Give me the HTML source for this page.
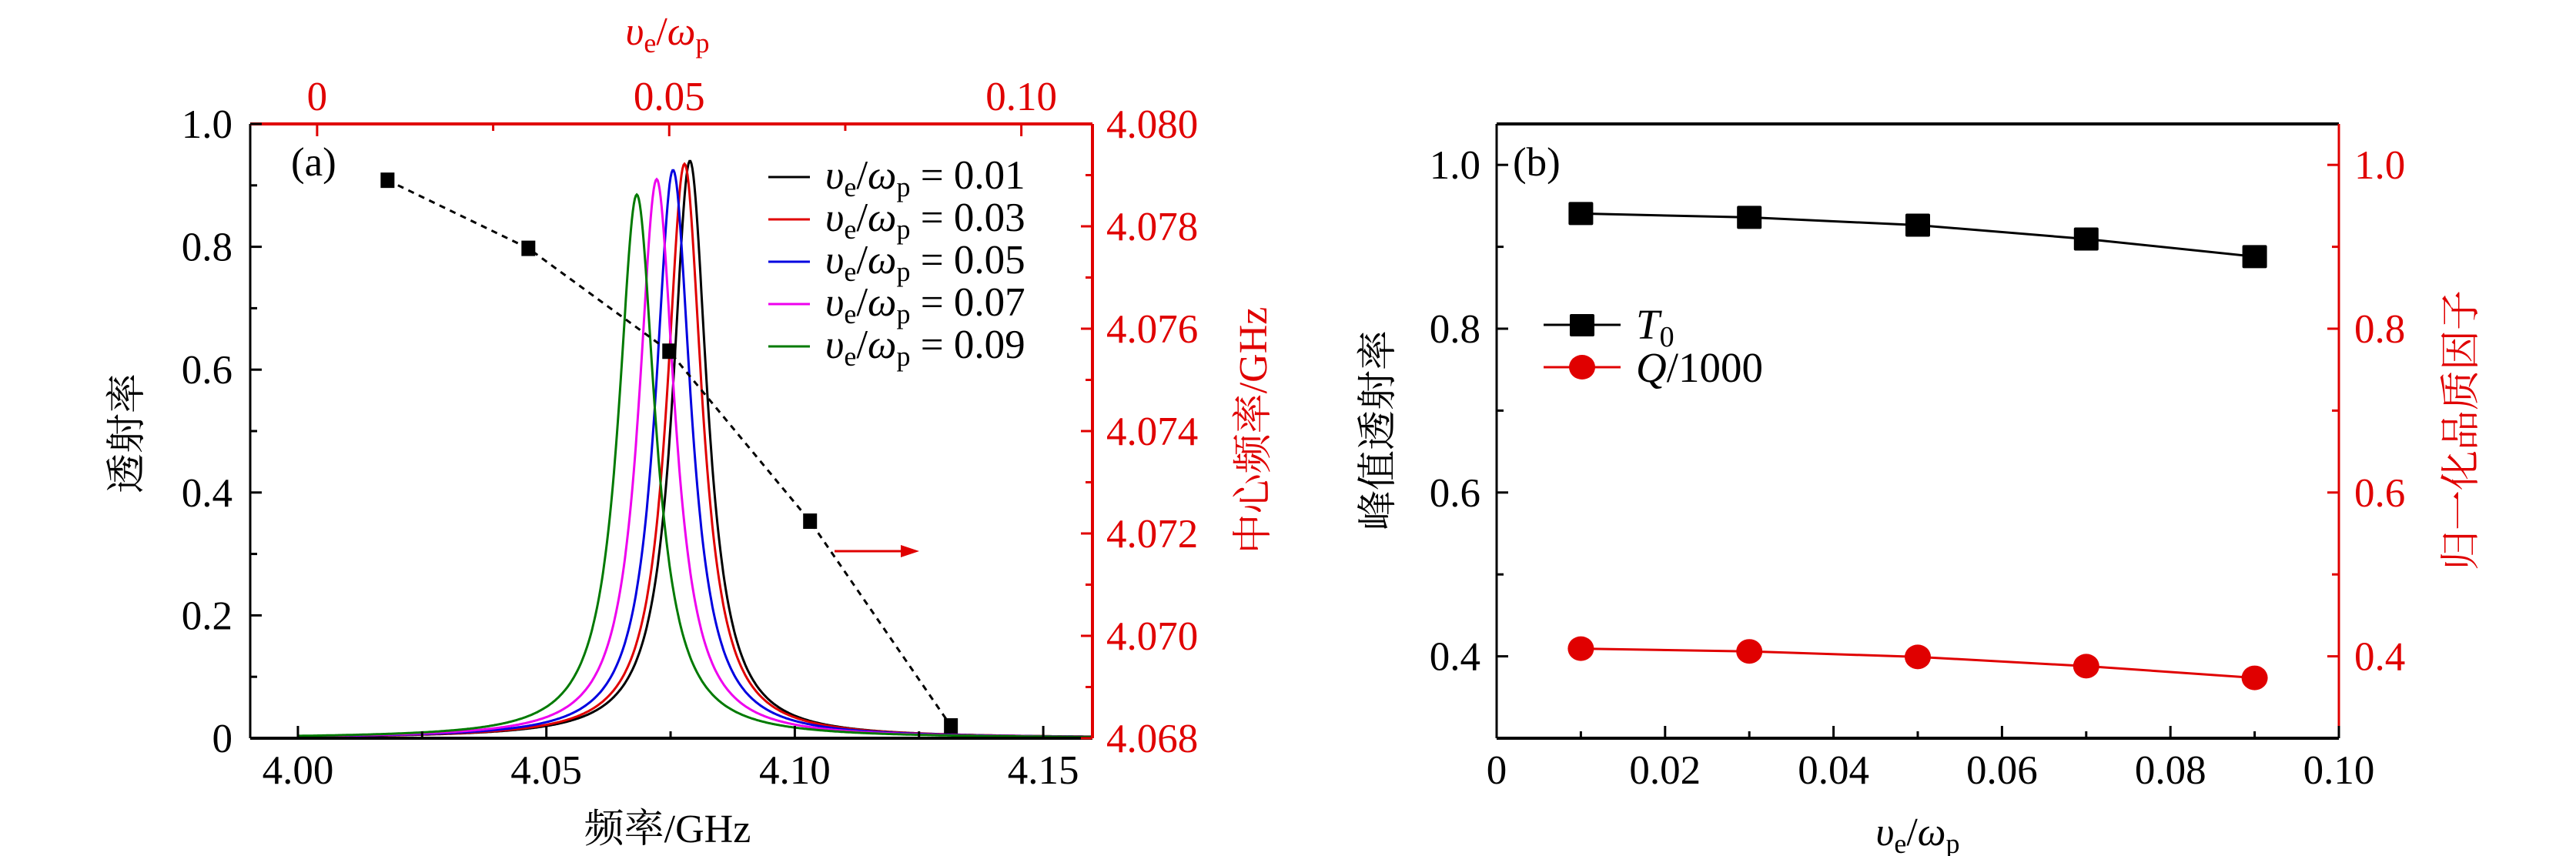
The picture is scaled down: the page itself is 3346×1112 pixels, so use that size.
<!DOCTYPE html>
<html><head><meta charset="utf-8"><style>
html,body{margin:0;padding:0;background:#fff}
svg{display:block}
text{font-family:"Liberation Serif","Noto Serif CJK SC",serif}
</style></head><body>
<svg id="fig" width="3346" height="1112" viewBox="0 0 3346 1112" xmlns="http://www.w3.org/2000/svg">
<g id="pa"></g>
<g id="pb"></g>
</svg>
<script>
// ---- Panel (a) data ----
const aVe = [0.01, 0.03, 0.05, 0.07, 0.09];
const aPeakFreq = [4.0789, 4.0778, 4.0755, 4.0722, 4.0682];
const aPeakT = [0.94, 0.935, 0.925, 0.91, 0.885];
const aFwhm = [0.0085, 0.0086, 0.0087, 0.0088, 0.0090];
const aColors = ["#000000", "#e00000", "#0000e0", "#ee00ee", "#007a00"];
const aCenterFreq = [4.0789, 4.07757, 4.07556, 4.07224, 4.06824];
const aXTicks = [4.00, 4.05, 4.10, 4.15];
const aXTickLabels = ["4.00", "4.05", "4.10", "4.15"];
const aYTicks = [0, 0.2, 0.4, 0.6, 0.8, 1.0];
const aYTickLabels = ["0", "0.2", "0.4", "0.6", "0.8", "1.0"];
const aTopTicks = [0, 0.05, 0.10];
const aTopTickLabels = ["0", "0.05", "0.10"];
const aRTicks = [4.068, 4.070, 4.072, 4.074, 4.076, 4.078, 4.080];
const aRTickLabels = ["4.068", "4.070", "4.072", "4.074", "4.076", "4.078", "4.080"];
// ---- Panel (b) data ----
const bVe = [0.01, 0.03, 0.05, 0.07, 0.09];
const bT0 = [0.9406, 0.9359, 0.9264, 0.9095, 0.888];
const bQ = [0.4094, 0.406, 0.3993, 0.388, 0.3737];
const bXTicks = [0, 0.02, 0.04, 0.06, 0.08, 0.10];
const bXTickLabels = ["0", "0.02", "0.04", "0.06", "0.08", "0.10"];
const bYTicks = [0.4, 0.6, 0.8, 1.0];
const bYTickLabels = ["0.4", "0.6", "0.8", "1.0"];

const NS = "http://www.w3.org/2000/svg";
const FF = '"Liberation Serif","Noto Serif CJK SC",serif';
const FS = 53, FT = 52;
function mk(parent, tag, attrs, txt){
  const e = document.createElementNS(NS, tag);
  for (const k in attrs) e.setAttribute(k, attrs[k]);
  if (tag==='text') e.setAttribute('font-family', FF);
  if (txt !== undefined) e.textContent = txt;
  parent.appendChild(e); return e;
}
function lin(d0,d1,r0,r1){return v=>r0+(v-d0)/(d1-d0)*(r1-r0);}
const RED = "#e00000";
const VE = '<tspan font-style="italic">υ</tspan><tspan font-size="36" dy="10">e</tspan><tspan dy="-10">/</tspan><tspan font-style="italic">ω</tspan><tspan font-size="36" dy="10">p</tspan>';

// ===== Panel A =====
const A = document.getElementById('pa');
const aL=325,aR=1419,aT=161,aB=959;
const ax = lin(3.9904,4.1599,aL,aR);
const ay = lin(0,1,aB,aT);
const atx = lin(-0.0095,0.1101,aL,aR);
const ary = lin(4.068,4.080,aB,aT);

for(let i=0;i<aVe.length;i++){
  let d="";
  for(let f=4.0; f<=4.1599; f+=0.0002){
    const dx=2*(f-aPeakFreq[i])/aFwhm[i];
    const t=aPeakT[i]/(1+dx*dx);
    d+=(d?"L":"M")+ax(f).toFixed(1)+","+ay(t).toFixed(1);
  }
  const p=mk(A,'path',{d:d,fill:'none',stroke:aColors[i],'stroke-width':3});
  
  
}
{
  let d="";
  for(let i=0;i<aVe.length;i++) d+=(i?"L":"M")+atx(aVe[i])+","+ary(aCenterFreq[i]);
  const p=mk(A,'path',{d:d,fill:'none',stroke:'#000','stroke-width':3,'stroke-dasharray':'8,7'});
  
  
  for(let i=0;i<aVe.length;i++){
    const r=mk(A,'rect',{x:atx(aVe[i])-9,y:ary(aCenterFreq[i])-10,width:18,height:20,fill:'#000'});
    
    
  }
}
{
  const g=mk(A,'g',{});
  
  
  mk(g,'line',{x1:1084,y1:716,x2:1175,y2:716,stroke:RED,'stroke-width':3});
  mk(g,'path',{d:'M1194,716 L1170,708 L1170,724 Z',fill:RED});
}
{
  const g=mk(A,'g',{});
  
  
  mk(g,'line',{x1:aL,y1:aB,x2:aR,y2:aB,stroke:'#000','stroke-width':4});
  mk(g,'line',{x1:aL,y1:aB,x2:aL,y2:aT,stroke:'#000','stroke-width':3});
  mk(g,'line',{x1:aL,y1:aT,x2:aR,y2:aT,stroke:RED,'stroke-width':4});
  mk(g,'line',{x1:aR,y1:aB,x2:aR,y2:aT,stroke:RED,'stroke-width':4});
  for(let i=0;i<aXTicks.length;i++){
    const x=ax(aXTicks[i]);
    mk(g,'line',{x1:x,y1:aB,x2:x,y2:aB-16,stroke:'#000','stroke-width':3});
    const t=mk(A,'text',{x:x,y:1018,'font-size':FS,'text-anchor':'middle'},aXTickLabels[i]);
    
    
    if(i<aXTicks.length-1){const xm=ax(aXTicks[i]+0.025);mk(g,'line',{x1:xm,y1:aB,x2:xm,y2:aB-9,stroke:'#000','stroke-width':3});}
  }
  for(let i=0;i<aYTicks.length;i++){
    const y=ay(aYTicks[i]);
    mk(g,'line',{x1:aL,y1:y,x2:aL+15,y2:y,stroke:'#000','stroke-width':3});
    const t=mk(A,'text',{x:302,y:y+18,'font-size':FS,'text-anchor':'end'},aYTickLabels[i]);
    
    
    if(i<aYTicks.length-1){const ym=ay(aYTicks[i]+0.1);mk(g,'line',{x1:aL,y1:ym,x2:aL+9,y2:ym,stroke:'#000','stroke-width':3});}
  }
  for(let i=0;i<aTopTicks.length;i++){
    const x=atx(aTopTicks[i]);
    mk(g,'line',{x1:x,y1:aT,x2:x,y2:aT+16,stroke:RED,'stroke-width':3});
    const t=mk(A,'text',{x:x,y:143,'font-size':FS,'text-anchor':'middle',fill:RED},aTopTickLabels[i]);
    
    
    const xm=atx(aTopTicks[i]+0.025);
    if(xm<aR-5) mk(g,'line',{x1:xm,y1:aT,x2:xm,y2:aT+9,stroke:RED,'stroke-width':3});
  }
  for(let i=0;i<aRTicks.length;i++){
    const y=ary(aRTicks[i]);
    mk(g,'line',{x1:aR,y1:y,x2:aR-15,y2:y,stroke:RED,'stroke-width':3});
    const t=mk(A,'text',{x:1437,y:y+18,'font-size':FS,fill:RED},aRTickLabels[i]);
    
    
    if(i<aRTicks.length-1){const ym=ary(aRTicks[i]+0.001);mk(g,'line',{x1:aR,y1:ym,x2:aR-9,y2:ym,stroke:RED,'stroke-width':3});}
  }
}
{
  let t=mk(A,'text',{x:378,y:228,'font-size':FS},'(a)');
   
  t=mk(A,'text',{x:867,y:1094,'font-size':FT,'text-anchor':'middle'},'频率/GHz');
   
  t=mk(A,'text',{x:0,y:0,'font-size':FT,'text-anchor':'middle',transform:'translate(182,563) rotate(-90)'},'透射率');
   
  t=mk(A,'text',{x:0,y:0,'font-size':FT,'text-anchor':'middle',fill:RED,transform:'translate(1645,559) rotate(-90)'},'中心频率/GHz');
   
  t=mk(A,'text',{x:867,y:58,'font-size':FT,'text-anchor':'middle',fill:RED});
   
  t.innerHTML=VE;
}
{
  const ly=[230,285,340,395,450];
  for(let i=0;i<aVe.length;i++){
    const g=mk(A,'g',{});
    
    
    mk(g,'line',{x1:998,y1:ly[i],x2:1052,y2:ly[i],stroke:aColors[i],'stroke-width':3});
    const t=mk(g,'text',{x:1072,y:ly[i]+15,'font-size':FS});
    t.innerHTML=VE+'<tspan dy="-10"> = '+aVe[i].toFixed(2)+'</tspan>';
  }
}

// ===== Panel B =====
const B = document.getElementById('pb');
const bL=1944,bR=3038,bT=161,bB=959;
const bx=lin(0,0.1,bL,bR);
const by=lin(0.3,1.05,bB,bT);
{
  const g=mk(B,'g',{});
  
  
  mk(g,'line',{x1:bL,y1:bB,x2:bR,y2:bB,stroke:'#000','stroke-width':4});
  mk(g,'line',{x1:bL,y1:bB,x2:bL,y2:bT,stroke:'#000','stroke-width':3});
  mk(g,'line',{x1:bL,y1:bT,x2:bR,y2:bT,stroke:'#000','stroke-width':4});
  mk(g,'line',{x1:bR,y1:bB,x2:bR,y2:bT,stroke:RED,'stroke-width':3});
  for(let i=0;i<bXTicks.length;i++){
    const x=bx(bXTicks[i]);
    mk(g,'line',{x1:x,y1:bB,x2:x,y2:bB-16,stroke:'#000','stroke-width':3});
    const t=mk(B,'text',{x:x,y:1018,'font-size':FS,'text-anchor':'middle'},bXTickLabels[i]);
    
    
    if(i<bXTicks.length-1){const xm=bx(bXTicks[i]+0.01);mk(g,'line',{x1:xm,y1:bB,x2:xm,y2:bB-9,stroke:'#000','stroke-width':3});}
  }
  for(let i=0;i<bYTicks.length;i++){
    const y=by(bYTicks[i]);
    mk(g,'line',{x1:bL,y1:y,x2:bL+15,y2:y,stroke:'#000','stroke-width':3});
    mk(g,'line',{x1:bR,y1:y,x2:bR-15,y2:y,stroke:RED,'stroke-width':3});
    let t=mk(B,'text',{x:1923,y:y+18,'font-size':FS,'text-anchor':'end'},bYTickLabels[i]);
     
    t=mk(B,'text',{x:3058,y:y+18,'font-size':FS,fill:RED},bYTickLabels[i]);
     
    if(i<bYTicks.length-1){const ym=by(bYTicks[i]+0.1);
      mk(g,'line',{x1:bL,y1:ym,x2:bL+9,y2:ym,stroke:'#000','stroke-width':3});
      mk(g,'line',{x1:bR,y1:ym,x2:bR-9,y2:ym,stroke:RED,'stroke-width':3});}
  }
}
{
  let d="",d2="";
  for(let i=0;i<bVe.length;i++){d+=(i?"L":"M")+bx(bVe[i])+","+by(bT0[i]);d2+=(i?"L":"M")+bx(bVe[i])+","+by(bQ[i]);}
  let p=mk(B,'path',{d:d,fill:'none',stroke:'#000','stroke-width':3});
   
  p=mk(B,'path',{d:d2,fill:'none',stroke:RED,'stroke-width':3});
   
  for(let i=0;i<bVe.length;i++){
    const r=mk(B,'rect',{x:bx(bVe[i])-16,y:by(bT0[i])-15,width:32,height:30,rx:2,fill:'#000'});
     
    const c=mk(B,'ellipse',{cx:bx(bVe[i]),cy:by(bQ[i]),rx:17,ry:16,fill:RED});
     
  }
}
{
  let g=mk(B,'g',{});
   
  mk(g,'line',{x1:2005,y1:422,x2:2105,y2:422,stroke:'#000','stroke-width':3});
  mk(g,'rect',{x:2039,y:408,width:32,height:29,rx:2,fill:'#000'});
  let t=mk(g,'text',{x:2125,y:440,'font-size':55});
  t.innerHTML='<tspan font-style="italic">T</tspan><tspan font-size="38" dy="10">0</tspan>';
  g=mk(B,'g',{});
   
  mk(g,'line',{x1:2005,y1:477,x2:2105,y2:477,stroke:RED,'stroke-width':3});
  mk(g,'ellipse',{cx:2055,cy:477,rx:17,ry:16,fill:RED});
  t=mk(g,'text',{x:2125,y:496,'font-size':55});
  t.innerHTML='<tspan font-style="italic">Q</tspan>/1000';
  t=mk(B,'text',{x:1965,y:228,'font-size':FS},'(b)');
   
  t=mk(B,'text',{x:0,y:0,'font-size':FT,'text-anchor':'middle',transform:'translate(1807,559) rotate(-90)'},'峰值透射率');
   
  t=mk(B,'text',{x:0,y:0,'font-size':FT,'text-anchor':'middle',fill:RED,transform:'translate(3214,559) rotate(-90)'},'归一化品质因子');
   
  t=mk(B,'text',{x:2491,y:1098,'font-size':FT,'text-anchor':'middle'});
   
  t.innerHTML=VE;
}
</script>
</body></html>
